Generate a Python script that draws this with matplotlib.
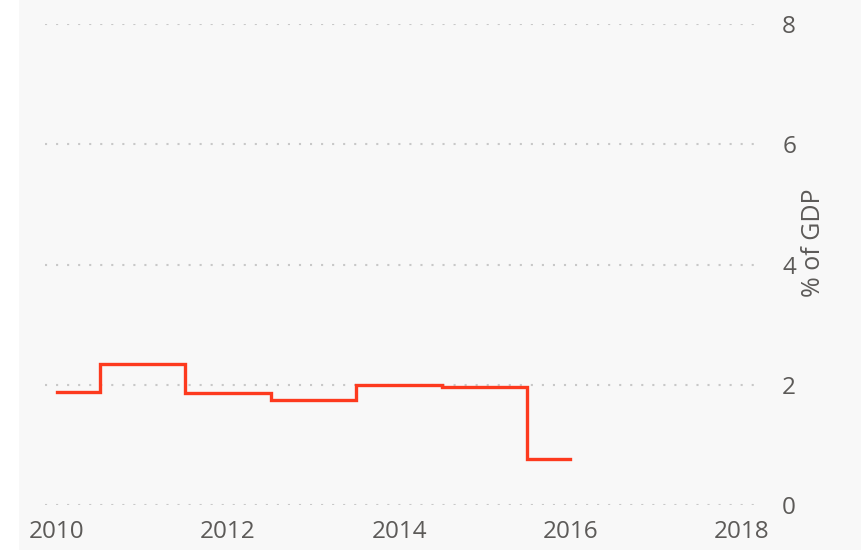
import numpy as np
import matplotlib.pyplot as plt
from matplotlib.patches import Rectangle

# Data
years = [2010, 2011, 2012, 2013, 2014, 2015, 2016]
pct_gdp = [1.88, 2.34, 1.86, 1.75, 2.00, 1.96, 0.77]
x_ticks = [2010, 2012, 2014, 2016, 2018]
y_ticks = [0, 2, 4, 6, 8]

plt.rcParams["font.family"] = ["Open Sans", "DejaVu Sans"]
text_col = "#5c5a58"

fig = plt.figure(figsize=(8.61, 5.5), dpi=100)
fig.patch.set_facecolor("white")
# light grey panel, white strip on the far left
fig.patches.append(Rectangle((19 / 861, 0), 1, 1, transform=fig.transFigure,
                             facecolor="#f8f8f8", edgecolor="none", zorder=-10))

ax = fig.add_axes([45 / 861, 45 / 550, 715 / 861, 481 / 550])
ax.set_facecolor("none")

# step line
ax.step(years, pct_gdp, where="mid", color="#fd3a1e", linewidth=2.4,
        solid_joinstyle="miter")

ax.set_xlim(2009.86, 2018.22)
ax.set_ylim(0, 8)
ax.set_xticks(x_ticks)
ax.set_yticks(y_ticks)

# y axis on the right
ax.yaxis.tick_right()
ax.yaxis.set_label_position("right")
ax.set_ylabel("% of GDP", fontsize=18, color=text_col)
ax.yaxis.set_label_coords(1.058, 0.545)

ax.tick_params(axis="both", length=0, labelsize=17.5, labelcolor=text_col)
ax.tick_params(axis="x", pad=11)
ax.tick_params(axis="y", pad=16)
for lbl in ax.get_yticklabels():
    lbl.set_horizontalalignment("left")

# Grid (dotted, ~11px spacing)
ax.grid(axis="y", linestyle=(0, (1, 4.3)), linewidth=1.5, color="#c8c8c8")
ax.grid(axis="x", visible=False)
for s in ax.spines.values():
    s.set_visible(False)
ax.set_axisbelow(True)

plt.savefig("out.png", dpi=100)
